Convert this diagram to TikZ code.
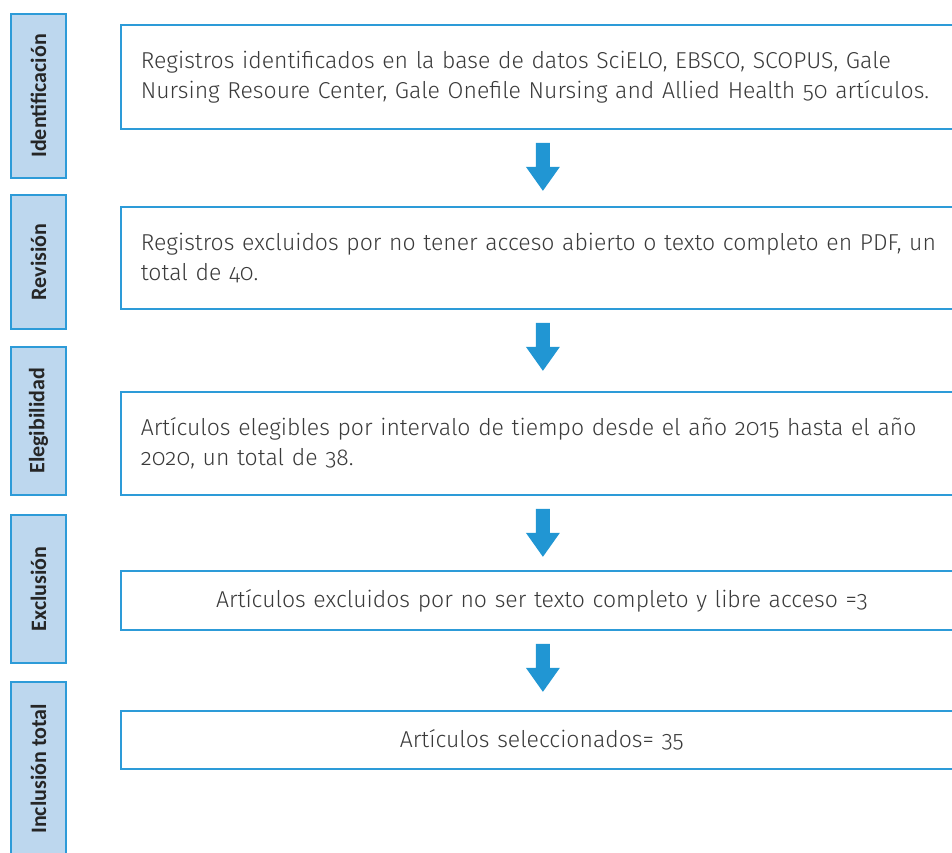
\documentclass[tikz,border=0pt]{standalone}
\usepackage{fontspec}
\setmainfont{Fira Sans Light}[Numbers=OldStyle,BoldFont={Fira Sans SemiBold}]
\newfontfamily\labfont{Carlito}
\usetikzlibrary{calc}
\definecolor{bord}{HTML}{2D9BD8}
\definecolor{lab}{HTML}{BDD7EE}
\definecolor{arr}{HTML}{2196D3}
\definecolor{txt}{HTML}{3A3A3A}
\definecolor{labtxt}{HTML}{262626}
\tikzset{
  box/.style={draw=bord, line width=1.8pt, fill=white, anchor=north west, minimum width=842pt, inner xsep=20pt, text=txt, font=\fontsize{23}{30}\selectfont},
  leftbox/.style={box, text width=802pt, align=left},
  midbox/.style={box, text width=802pt, align=center},
  labbox/.style={draw=bord, line width=1.8pt, fill=lab, rotate=90, anchor=north east, minimum height=55pt, inner sep=0pt, text=labtxt, font=\labfont\fontsize{22}{24}\selectfont\bfseries},
}
\newcommand\fatarrow[1]{%
  \fill[arr] ([shift={(-6,13)}]#1) -- ([shift={(8,13)}]#1) -- ([shift={(8,37)}]#1) -- ([shift={(18,37)}]#1)
   -- ([shift={(1,61)}]#1) -- ([shift={(-16,37)}]#1) -- ([shift={(-6,37)}]#1) -- cycle;}
\begin{document}
\begin{tikzpicture}[x=1pt,y=-1pt]
\useasboundingbox (0,0) rectangle (952,852);
\clip (0,0) rectangle (952,852);
% labels
\node[labbox, minimum width=164pt] (l1) at (10,13) {Identificación};
\node[labbox, minimum width=134pt] (l2) at (10,194) {Revisión};
\node[labbox, minimum width=148pt] (l3) at (10,346) {Elegibilidad};
\node[labbox, minimum width=148pt] (l4) at (10,514) {Exclusión};
\node[labbox, minimum width=174pt] (l5) at (10,681) {Inclusión total};
% boxes
\node[leftbox, minimum height=104pt] (b1) at (120,24) {Registros identificados en la base de datos SciELO, EBSCO, SCOPUS, Gale\\Nursing Resoure Center, Gale Onefile Nursing and Allied Health 50 artículos.};
\node[leftbox, minimum height=102pt] (b2) at (120,206) {Registros excluidos por no tener acceso abierto o texto completo en PDF, un\\total de 40.};
\node[leftbox, minimum height=103pt] (b3) at (120,391) {Artículos elegibles por intervalo de tiempo desde el año 2015 hasta el año\\2020, un total de 38.};
\node[midbox, minimum height=59pt] (b4) at (120,570) {Artículos excluidos por no ser texto completo y libre acceso =3};
\node[midbox, minimum height=58pt] (b5) at (120,710) {Artículos seleccionados= 35};
% arrows
\fatarrow{b1.south}
\fatarrow{b2.south}
\fatarrow{b3.south}
\fatarrow{b4.south}
\end{tikzpicture}
\end{document}
